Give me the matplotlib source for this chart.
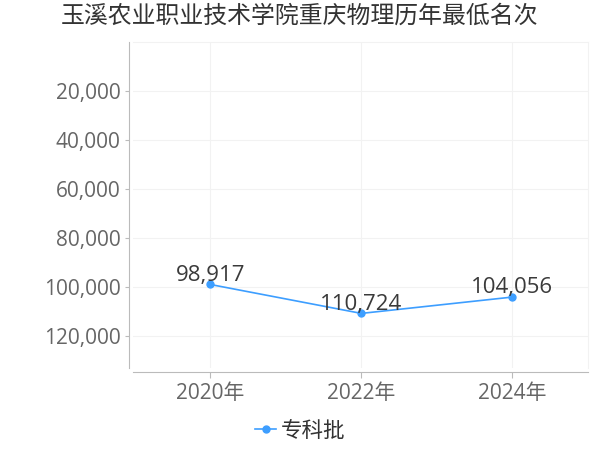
import matplotlib.pyplot as plt

plt.rcParams['font.family'] = ['Open Sans', 'Noto Sans CJK SC', 'DejaVu Sans']

years = ["2020年", "2022年", "2024年"]
ranks = [98917, 110724, 104056]
series_name = "专科批"
title = "玉溪农业职业技术学院重庆物理历年最低名次"
yticks = [20000, 40000, 60000, 80000, 100000, 120000]

line_color = "#3d9eff"

fig = plt.figure(figsize=(6, 4.5), dpi=100)
ax = fig.add_axes([0.222, 0.1822, 0.758, 0.7245])

x = list(range(len(years)))
ax.plot(x, ranks, color=line_color, linewidth=1.2, marker="o", markersize=5,
        label=series_name, zorder=3)

for xi, v in zip(x, ranks):
    ax.annotate(f"{v:,}", (xi, v), xytext=(0, -1), textcoords="offset points",
                ha="center", va="bottom", fontsize=16, color="#3a3a3a", zorder=4)

ax.set_xlim(-0.51, 2.5)
ax.set_ylim(133000, 0)
ax.set_xticks(x)
ax.set_xticklabels(years)
ax.set_yticks(yticks)
ax.set_yticklabels([f"{t:,}" for t in yticks])

ax.tick_params(axis="both", colors="#666666", labelsize=15)
ax.tick_params(axis="y", pad=3, length=3, color="#bbbbbb")
ax.tick_params(axis="x", pad=4, length=4, color="#bbbbbb")

ax.grid(True, color="#f2f2f2", linewidth=0.8)
ax.set_axisbelow(True)
for side in ["top", "right"]:
    ax.spines[side].set_color("#f2f2f2")
    ax.spines[side].set_linewidth(0.8)
ax.spines["left"].set_color("#bbbbbb")
ax.spines["bottom"].set_color("#bbbbbb")
ax.spines["left"].set_position(("outward", 3))
ax.spines["bottom"].set_position(("outward", 3))

fig.suptitle(title, x=0.5, y=0.99, fontsize=17.2, color="#333333")

fig.legend(loc="lower center", bbox_to_anchor=(0.5, -0.025), frameon=False,
           fontsize=15.5, handlelength=1.0, handletextpad=0.2, labelcolor="#333333")

fig.savefig("out.png", dpi=100)
